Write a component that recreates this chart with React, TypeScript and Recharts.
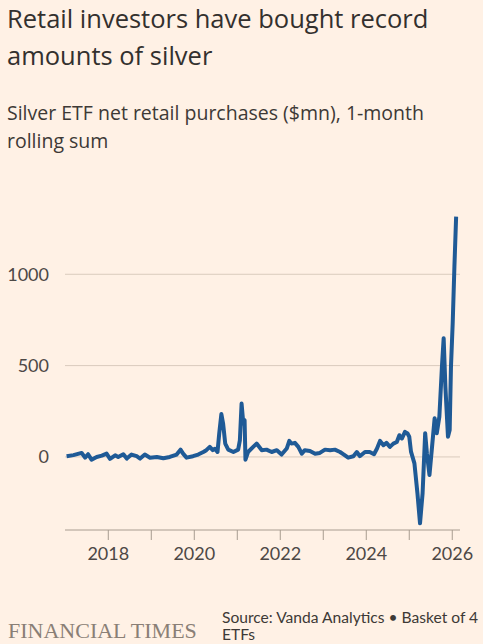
import { LineChart, Line, XAxis, YAxis, CartesianGrid } from 'recharts';

// decimal year of each reading
const YEARS = [
  2017.03, 2017.19, 2017.38, 2017.46, 2017.53, 2017.61, 2017.73, 2017.85, 2017.96,
  2018.04, 2018.16, 2018.23, 2018.35, 2018.43, 2018.54, 2018.66, 2018.74, 2018.85, 2018.97,
  2019.13, 2019.28, 2019.43, 2019.59, 2019.68, 2019.74, 2019.82, 2019.97,
  2020.09, 2020.21, 2020.28, 2020.36, 2020.43, 2020.48, 2020.54, 2020.58, 2020.63, 2020.67,
  2020.72, 2020.79, 2020.91,
  2021.02, 2021.06, 2021.1, 2021.14, 2021.17, 2021.19, 2021.25, 2021.37, 2021.45, 2021.57,
  2021.68, 2021.8, 2021.92,
  2022.03, 2022.15, 2022.21, 2022.26, 2022.34, 2022.42, 2022.5, 2022.57, 2022.69, 2022.81, 2022.92,
  2023.04, 2023.16, 2023.27, 2023.39, 2023.48, 2023.58, 2023.7, 2023.78, 2023.85, 2023.97,
  2024.08, 2024.18, 2024.25, 2024.32, 2024.4, 2024.47, 2024.55, 2024.63, 2024.71, 2024.77,
  2024.83, 2024.9, 2024.96,
  2025.0, 2025.04, 2025.12, 2025.19, 2025.25, 2025.31, 2025.37, 2025.41, 2025.47, 2025.53,
  2025.59, 2025.64, 2025.7, 2025.76, 2025.8, 2025.84, 2025.9, 2025.94, 2025.97,
  2026.01, 2026.05, 2026.09,
];

// net retail purchases, $mn, 1-month rolling sum
const PURCHASES = [
  4, 10, 22, -4, 15, -15, 0, 7, 18,
  -11, 9, 0, 15, -9, 13, 4, -9, 13, -4,
  0, -7, 0, 13, 40, 18, -4, 4,
  13, 27, 37, 55, 37, 45, 27, 128, 235, 183,
  73, 40, 27,
  40, 91, 292, 183, 201, -15, 27, 55, 73, 37,
  40, 27, 37,
  13, 46, 88, 73, 77, 55, 18, 37, 33, 18, 22,
  40, 37, 40, 27, 13, -4, 4, 27, 4, 27,
  27, 15, 46, 88, 64, 77, 55, 73, 82, 119,
  101, 137, 128,
  111, 29, -35, -199, -363, -199, 130, 20, -99, 56,
  212, 130, 221, 494, 650, 385, 111, 148, 494,
  732, 1042, 1316,
];

const X_TICKS = [2018, 2019, 2020, 2021, 2022, 2023, 2024, 2025, 2026];
const Y_TICKS = [0, 500, 1000];

const data = YEARS.map((year, i) => ({ year, value: PURCHASES[i] }));

const TICK_FONT = 'Lato, "Open Sans", sans-serif';
const HEAD_FONT = '"Open Sans", Lato, sans-serif';

export default function App() {
  return (
    <div
      style={{
        position: 'absolute',
        left: 0,
        top: 0,
        width: 483,
        height: 644,
        background: '#fff1e5',
        overflow: 'hidden',
      }}
    >
      <svg width={483} height={644} style={{ position: 'absolute', left: 0, top: 0 }}>
        <g fontFamily={HEAD_FONT}>
          <text x={7} y={27.5} fontSize={25.5} fill="#33302e">Retail investors have bought record</text>
          <text x={7} y={65} fontSize={25.5} fill="#33302e">amounts of silver</text>
          <text x={7} y={120} fontSize={19.5} fill="#3d3936">
            Silver ETF net retail purchases ($mn), 1-month
          </text>
          <text x={7} y={148} fontSize={19.5} fill="#3d3936">rolling sum</text>
        </g>
        <g fontFamily={TICK_FONT}>
          <text x={222} y={623} fontSize={15.6} fill="#3d3936">
            Source: Vanda Analytics • Basket of 4
          </text>
          <text x={222} y={640} fontSize={15.6} fill="#3d3936">ETFs</text>
        </g>
        <text
          x={8}
          y={638}
          fontSize={22}
          fontFamily='"Liberation Serif", serif'
          fill="#8a7f76"
        >
          FINANCIAL TIMES
        </text>
      </svg>
      <div style={{ position: 'absolute', left: 0, top: 0 }}>
        <LineChart
          width={483}
          height={580}
          data={data}
          margin={{ top: 214, right: 23, bottom: 0, left: 0 }}
        >
          <CartesianGrid vertical={false} stroke="#dacbbd" horizontalValues={Y_TICKS} />
          <XAxis
            dataKey="year"
            type="number"
            domain={[2016.993, 2026.18]}
            allowDataOverflow
            ticks={X_TICKS}
            tickFormatter={(v: number) => (v % 2 === 0 ? String(v) : '')}
            height={50}
            axisLine={{ stroke: '#a89c90' }}
            tickLine={{ stroke: '#a89c90' }}
            tickSize={10}
            tickMargin={7}
            tick={{ fill: '#4d4845', fontSize: 18, fontFamily: TICK_FONT }}
          />
          <YAxis
            type="number"
            domain={[-400, 1330]}
            allowDataOverflow
            ticks={Y_TICKS}
            width={65}
            axisLine={false}
            tickLine={false}
            tickSize={0}
            tickMargin={16}
            tick={{ fill: '#4d4845', fontSize: 18, fontFamily: TICK_FONT }}
          />
          <Line
            type="linear"
            dataKey="value"
            stroke="#1f5a96"
            strokeWidth={4}
            strokeLinejoin="round"
            dot={false}
            isAnimationActive={false}
          />
        </LineChart>
      </div>
    </div>
  );
}
